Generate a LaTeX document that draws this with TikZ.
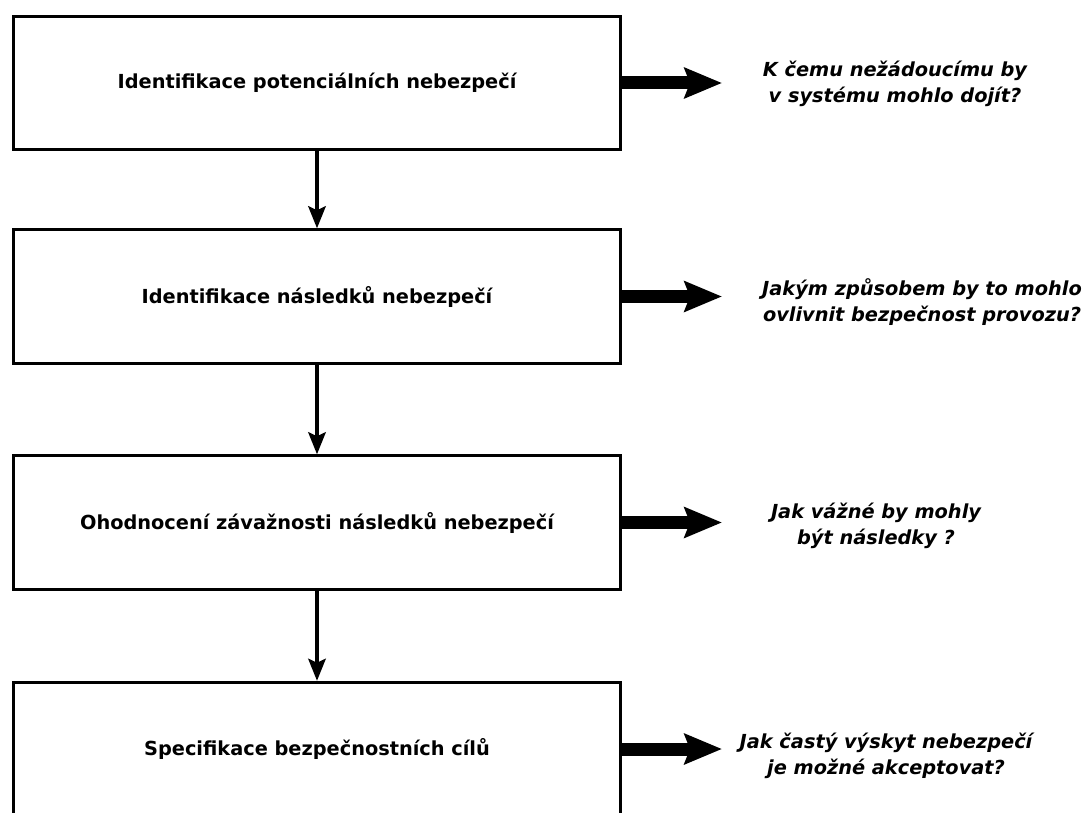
\documentclass[tikz,border=0pt]{standalone}
\usepackage{fontspec}
\setmainfont{DejaVu Sans}
\usetikzlibrary{arrows.meta}

\begin{document}
\begin{tikzpicture}[x=0.75pt,y=-0.75pt,
    stage/.style={draw,line width=2.25pt,minimum width=455pt,minimum height=100pt,
      font=\bfseries\fontsize{14.5}{17}\selectfont},
    quest/.style={align=center,font=\bfseries\itshape\fontsize{14.5}{19}\selectfont},
    flow/.style={-{Stealth[length=16.5pt,width=13pt,inset=3pt]},line width=3pt},
    fat/.style={-{Stealth[length=28pt,width=22.5pt,inset=4pt]},line width=9.75pt}
  ]
  \useasboundingbox (0,0) rectangle (1088,813);
  % stages of the analysis
  \node[stage] (b1) at (317,83) {Identifikace potenciálních nebezpečí};
  \node[stage] (b2) at (317,296.5) {Identifikace následků nebezpečí};
  \node[stage] (b3) at (317,522.5) {Ohodnocení závažnosti následků nebezpečí};
  \node[stage] (b4) at (317,749) {Specifikace bezpečnostních cílů};
  \foreach \i/\j in {1/2,2/3,3/4}
    \draw[flow] (b\i.south) -- (b\j.north);
  % questions on the right
  \node[quest] (q1) at (895,84) {K čemu nežádoucímu by\\v systému mohlo dojít?};
  \node[quest] (q2) at (922,302) {Jakým způsobem by to mohlo\\ovlivnit bezpečnost provozu?};
  \node[quest] (q3) at (876,526) {Jak vážné by mohly\\být následky ?};
  \node[quest] (q4) at (886,756) {Jak častý výskyt nebezpečí\\je možné akceptovat?};
  \foreach \i in {1,...,4} {
    \coordinate (t\i) at (722,0 |- b\i.east);
    \draw[fat] (b\i.east) -- (t\i);
  }
\end{tikzpicture}
\end{document}
